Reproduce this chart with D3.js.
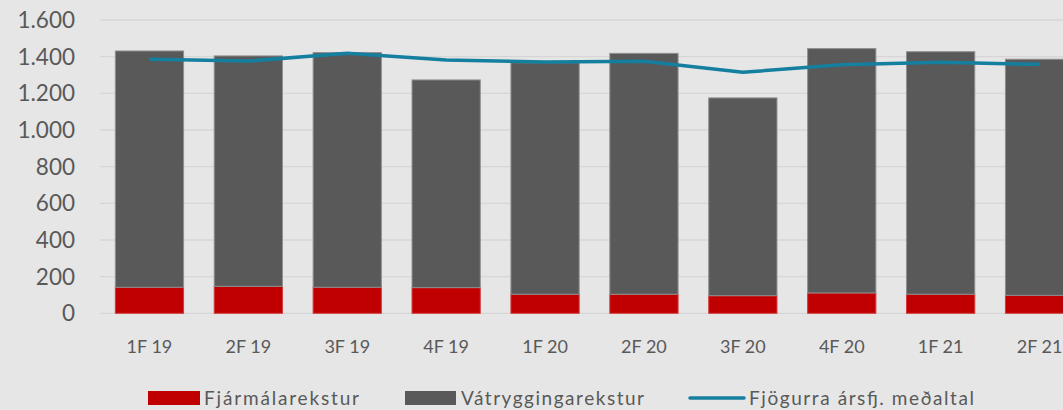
<!DOCTYPE html>
<html>
<head>
<meta charset="utf-8">
<script src="https://cdn.jsdelivr.net/npm/d3@7"></script>
<style>
  html, body { margin: 0; padding: 0; background: #e6e6e6; overflow: hidden; }
  svg { display: block; }
</style>
</head>
<body>
<svg id="chart"></svg>
<script>
// quarters and values
const quarters = ['1F 19', '2F 19', '3F 19', '4F 19', '1F 20', '2F 20', '3F 20', '4F 20', '1F 21', '2F 21'];
const fjarmal  = [142, 147, 142, 140, 104, 104, 96, 111, 104, 98];
const vatrygg  = [1289, 1257, 1280, 1133, 1263, 1314, 1079, 1333, 1323, 1288];
const medaltal = [1386, 1376, 1418, 1382, 1371, 1375, 1315, 1356, 1369, 1358];
const yTicks   = [0, 200, 400, 600, 800, 1000, 1200, 1400, 1600];

const W = 1063, H = 410;
const RED = '#c00000', GREY = '#595959', LINE = '#157fa0', TXT = '#595959';

const svg = d3.select('#chart').attr('width', W).attr('height', H);
svg.append('rect').attr('width', W).attr('height', H).attr('fill', '#e6e6e6');

// plot runs past the right edge of the window, as in the original
const x = d3.scaleBand().domain(quarters).range([100, 1089]).paddingInner(0.31).paddingOuter(0.155);
const y = d3.scaleLinear().domain([0, 1600]).range([313.3, 20]);

const fmt = v => d3.format(',')(v).replace(/,/g, '.');

// gridlines
svg.append('g').selectAll('line').data(yTicks).join('line')
  .attr('x1', 100).attr('x2', W).attr('y1', d => y(d)).attr('y2', d => y(d))
  .attr('stroke', '#d6d6d6').attr('stroke-width', 1.3);

// y labels
svg.append('g').selectAll('text').data(yTicks).join('text')
  .attr('x', 75).attr('y', d => y(d)).attr('dy', '0.36em').attr('text-anchor', 'end')
  .attr('font-family', 'Lato, sans-serif').attr('font-size', 22.5).attr('fill', TXT)
  .text(fmt);

// stacked bars
const rows = quarters.map((q, i) => ({ q, a: fjarmal[i], b: vatrygg[i] }));
const stack = d3.stack().keys(['a', 'b'])(rows);
const fills = { a: RED, b: GREY }, strokes = { a: '#d23b3b', b: '#8f8f8f' };
svg.append('g').selectAll('g').data(stack).join('g')
  .attr('fill', s => fills[s.key]).attr('stroke', s => strokes[s.key]).attr('stroke-width', 1)
  .selectAll('rect').data(s => s).join('rect')
  .attr('x', d => x(d.data.q)).attr('width', x.bandwidth())
  .attr('y', d => y(d[1])).attr('height', d => y(d[0]) - y(d[1]));

// four-quarter average line
const line = d3.line().x((d, i) => x(quarters[i]) + x.bandwidth() / 2).y(d => y(d));
svg.append('path').datum(medaltal).attr('d', line)
  .attr('fill', 'none').attr('stroke', LINE).attr('stroke-width', 3.5).attr('stroke-linejoin', 'round');

// x labels
svg.append('g').selectAll('text').data(quarters).join('text')
  .attr('x', d => x(d) + x.bandwidth() / 2).attr('y', 353).attr('text-anchor', 'middle')
  .attr('font-family', 'Lato, sans-serif').attr('font-size', 18).attr('fill', TXT)
  .text(d => d);

// legend
const lg = svg.append('g').attr('font-family', 'Lato, sans-serif').attr('font-size', 19).attr('fill', TXT);
lg.append('rect').attr('x', 148).attr('y', 391).attr('width', 52).attr('height', 14).attr('fill', RED);
lg.append('text').attr('x', 204).attr('y', 405).attr('textLength', 155).attr('lengthAdjust', 'spacing').text('Fjármálarekstur');
lg.append('rect').attr('x', 405).attr('y', 391).attr('width', 51).attr('height', 14).attr('fill', GREY);
lg.append('text').attr('x', 461).attr('y', 405).attr('textLength', 183).attr('lengthAdjust', 'spacing').text('Vátryggingarekstur');
lg.append('line').attr('x1', 690).attr('x2', 744).attr('y1', 398).attr('y2', 398)
  .attr('stroke', LINE).attr('stroke-width', 3.5).attr('stroke-linecap', 'round');
lg.append('text').attr('x', 749).attr('y', 405).attr('textLength', 225).attr('lengthAdjust', 'spacing').text('Fjögurra ársfj. meðaltal');
</script>
</body>
</html>
